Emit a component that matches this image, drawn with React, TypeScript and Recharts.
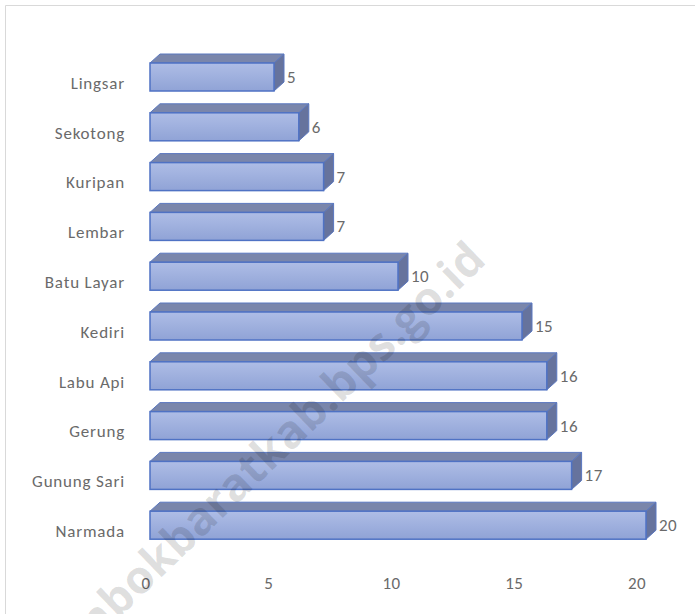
import React from 'react';
import { BarChart, Bar, XAxis, YAxis, LabelList } from 'recharts';

const categories = ['Lingsar', 'Sekotong', 'Kuripan', 'Lembar', 'Batu Layar', 'Kediri', 'Labu Api', 'Gerung', 'Gunung Sari', 'Narmada'];
const values = [5, 6, 7, 7, 10, 15, 16, 16, 17, 20];
const xTicks = [0, 5, 10, 15, 20];

const data = categories.map((name, i) => ({ name, value: values[i] }));

const FONT = "Carlito, Calibri, Lato, 'Open Sans', sans-serif";
const DX = 10;
const DY = 9;
const LIFT = 6;

const Bar3D = (props: any) => {
  const { x, y, width, height } = props;
  const fy = y - LIFT;
  const h = height;
  const top = `${x},${fy} ${x + DX},${fy - DY} ${x + width + DX},${fy - DY} ${x + width},${fy}`;
  const side = `${x + width},${fy} ${x + width + DX},${fy - DY} ${x + width + DX},${fy - DY + h} ${x + width},${fy + h}`;
  return (
    <g>
      <polygon points={top} fill="#7a86ab" stroke="#5b78c0" strokeWidth={1} strokeLinejoin="round" />
      <polygon points={side} fill="#66739d" stroke="#5b78c0" strokeWidth={1} strokeLinejoin="round" />
      <rect x={x} y={fy} width={width} height={h} fill="url(#frontGrad)" stroke="#4f72c4" strokeWidth={1.5} />
    </g>
  );
};

const ValueLabel = (props: any) => {
  const { x, y, width, height, value } = props;
  return (
    <text
      x={x + width + DX + 3}
      y={y - LIFT + height / 2}
      dy="0.35em"
      fill="#6a6a6a"
      fontSize={17}
      fontFamily={FONT}
      letterSpacing={0.5}
    >
      {value}
    </text>
  );
};

const XTick = (props: any) => {
  const { x, payload } = props;
  return (
    <text x={x - 4 - payload.value * 0.25} y={583} dy="0.35em" textAnchor="middle" fill="#6a6a6a" fontSize={17} fontFamily={FONT} letterSpacing={0.5}>
      {payload.value}
    </text>
  );
};

const YTick = (props: any) => {
  const { y, payload } = props;
  return (
    <text x={125} y={y} dy="0.35em" textAnchor="end" fill="#6a6a6a" fontSize={17} fontFamily={FONT} letterSpacing={0.8}>
      {payload.value}
    </text>
  );
};

export default function App() {
  return (
    <div style={{ position: 'absolute', left: 0, top: 0, width: 695, height: 614, background: '#fff', overflow: 'hidden' }}>
      <svg width={695} height={614} style={{ position: 'absolute', left: 0, top: 0 }}>
        <line x1={5.5} y1={5.5} x2={695} y2={5.5} stroke="#d9d9d9" strokeWidth={1} />
        <line x1={5.5} y1={5.5} x2={5.5} y2={614} stroke="#d9d9d9" strokeWidth={1} />
      </svg>
      <div style={{ position: 'absolute', left: 0, top: 0 }}>
        <BarChart
          width={695}
          height={614}
          data={data}
          layout="vertical"
          margin={{ top: 58, right: 49, bottom: 18, left: 0 }}
          barSize={28}
        >
          <defs>
            <linearGradient id="frontGrad" x1="0" y1="0" x2="0" y2="1">
              <stop offset="0%" stopColor="#aebde6" />
              <stop offset="100%" stopColor="#90a3d6" />
            </linearGradient>
          </defs>
          <XAxis
            type="number"
            domain={[0, 20]}
            ticks={xTicks}
            axisLine={false}
            tickLine={false}
            height={40}
            tick={<XTick />}
            interval={0}
          />
          <YAxis
            type="category"
            dataKey="name"
            width={150}
            axisLine={false}
            tickLine={false}
            tick={<YTick />}
            interval={0}
          />
          <Bar dataKey="value" shape={<Bar3D />} isAnimationActive={false}>
            <LabelList dataKey="value" content={<ValueLabel />} />
          </Bar>
        </BarChart>
      </div>
      <svg width={695} height={614} style={{ position: 'absolute', left: 0, top: 0, pointerEvents: 'none' }}>
        <text
          x={488}
          y={262}
          textAnchor="end"
          transform="rotate(-44 488 262)"
          fontFamily="'Open Sans', 'Liberation Sans', Arial, sans-serif"
          fontWeight="bold"
          fontSize={46}
          fill="#000"
          fillOpacity={0.13}
        >
          lombokbaratkab.bps.go.id
        </text>
      </svg>
    </div>
  );
}
